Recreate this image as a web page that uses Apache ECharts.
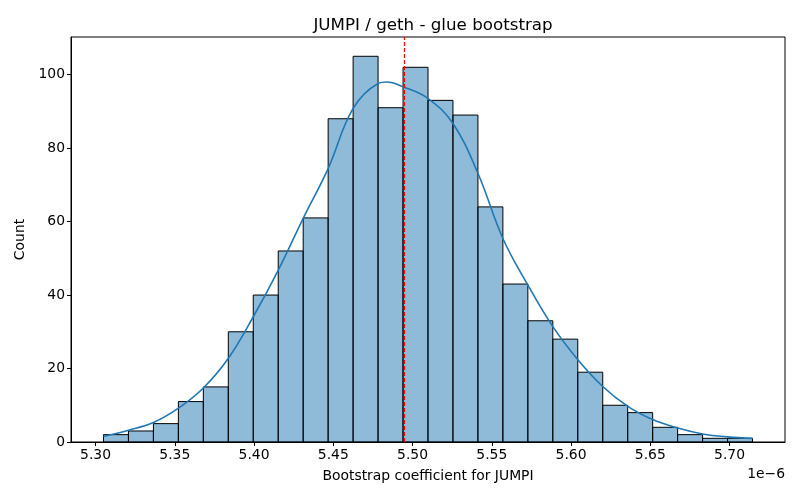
<!DOCTYPE html>
<html>
<head>
<meta charset="utf-8">
<script src="https://cdn.jsdelivr.net/npm/echarts@6/dist/echarts.min.js"></script>
<style>
html, body { margin: 0; padding: 0; background: #fff; }
#main { width: 800px; height: 500px; }
</style>
</head>
<body>
<div id="main"></div>
<script>
// 直方图数据（单位 1e-6）
var binStart = 5.305;		// 第一个柱子左边
var binWidth = 0.01575;		// 柱宽
var counts = [2, 3, 5, 11, 15, 30, 40, 52, 61, 88, 105, 91, 102, 93, 89, 64, 43, 33, 28, 19, 10, 8, 4, 2, 1, 1];
// KDE 曲线，从图上读出（x, count）
var kdeX = [5.305, 5.3208, 5.3365, 5.3523, 5.368, 5.3838, 5.3995, 5.4153, 5.431, 5.4468, 5.4625, 5.4783, 5.4837,
	5.494, 5.5098, 5.5255, 5.5413, 5.557, 5.5728, 5.5885, 5.6043, 5.62, 5.6358, 5.6515, 5.6673, 5.683, 5.6988, 5.7145];
var kdeY = [1.5, 3.2, 5.3, 9.2, 14.7, 22.8, 34.1, 46.8, 60.9, 74.5, 90.8, 97.6, 98.0,
	96.7, 93.5, 86.7, 73.1, 55.4, 42.7, 31.4, 22.4, 15.1, 9.7, 6.1, 3.8, 2.2, 1.4, 1.0];
var vline = 5.4946;		// 红色虚线
var xTicks = [5.30, 5.35, 5.40, 5.45, 5.50, 5.55, 5.60, 5.65, 5.70];

var bins = [];
for (var i = 0; i < counts.length; i++) {
	var left = binStart + i * binWidth;
	bins.push([left, left + binWidth, counts[i]]);
}
var kde = kdeX.map(function (x, i) { return [x, kdeY[i]]; });

var font = 'DejaVu Sans';
var chart = echarts.init(document.getElementById('main'));
var option = {
	animation: false,
	backgroundColor: '#fff',
	textStyle: { fontFamily: font },
	title: {
		text: 'JUMPI / geth - glue bootstrap',
		left: 428,
		textAlign: 'center',
		top: 12,
		textStyle: { fontFamily: font, fontSize: 16.7, fontWeight: 'normal', color: '#000' }
	},
	graphic: [{
		type: 'text',
		right: 15,
		top: 467,
		style: { text: '1e\u22126', fontFamily: font, fontSize: 13.9, fill: '#000' }
	}],
	grid: {
		left: 71, right: 15, top: 37, bottom: 58,
		show: true, borderColor: '#000', borderWidth: 1
	},
	xAxis: {
		type: 'value',
		min: 5.2845,
		max: 5.735,
		name: 'Bootstrap coefficient for JUMPI',
		nameLocation: 'middle',
		nameGap: 27,
		nameTextStyle: { fontFamily: font, fontSize: 13.9, color: '#000' },
		axisLine: { show: true, lineStyle: { color: '#000', width: 1 } },
		axisTick: { show: true, inside: false, length: 4, lineStyle: { color: '#000' }, customValues: xTicks },
		axisLabel: {
			fontFamily: font, fontSize: 13.9, color: '#000', margin: 6,
			customValues: xTicks,
			formatter: function (v) { return v.toFixed(2); }
		},
		splitLine: { show: false }
	},
	yAxis: {
		type: 'value',
		min: 0,
		max: 110.25,
		interval: 20,
		name: 'Count',
		nameLocation: 'middle',
		nameGap: 42,
		nameTextStyle: { fontFamily: font, fontSize: 13.9, color: '#000' },
		axisLine: { show: true, lineStyle: { color: '#000', width: 1 } },
		axisTick: { show: true, inside: false, length: 4, lineStyle: { color: '#000' } },
		axisLabel: { fontFamily: font, fontSize: 13.9, color: '#000', margin: 6, showMaxLabel: false },
		splitLine: { show: false }
	},
	series: [{
		type: 'custom',
		data: bins,
		z: 2,
		renderItem: function (params, api) {
			var p0 = api.coord([api.value(0), api.value(2)]);
			var p1 = api.coord([api.value(1), 0]);
			return {
				type: 'rect',
				shape: { x: p0[0], y: p0[1], width: p1[0] - p0[0], height: p1[1] - p0[1] },
				style: { fill: 'rgba(31,119,180,0.5)', stroke: '#000', lineWidth: 1 }
			};
		}
	}, {
		type: 'line',
		data: kde,
		smooth: 0.4,
		showSymbol: false,
		z: 3,
		lineStyle: { color: '#1f77b4', width: 1.6 },
		markLine: {
			silent: true,
			symbol: 'none',
			precision: 4,	//默认保留两位小数，会偏移
			label: { show: false },
			lineStyle: { color: '#ff0000', type: [4, 2], width: 1.2 },
			data: [{ xAxis: vline }]
		}
	}]
};
chart.setOption(option);
</script>
</body>
</html>
